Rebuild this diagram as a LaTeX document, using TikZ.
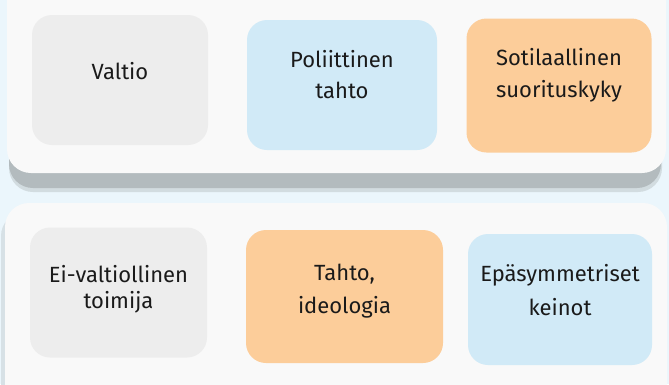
\documentclass[tikz,border=0pt]{standalone}
\usepackage{fontspec}
\setmainfont{Fira Sans}
\usepackage{tikz}
\usetikzlibrary{positioning}
\usepackage{xcolor}
\definecolor{bgblue}{HTML}{EBF6FC}
\definecolor{panelwhite}{HTML}{F9F9F9}
\definecolor{panelshadow}{HTML}{B3BBBE}
\definecolor{tilegray}{HTML}{EDEDED}
\definecolor{tileblue}{HTML}{D1EAF7}
\definecolor{tileorange}{HTML}{FCCD9A}
\definecolor{ink}{HTML}{1A1A1A}

\begin{document}
\begin{tikzpicture}[x=1pt,y=-1pt,
  panel/.style={rounded corners=24pt,fill=panelwhite},
  tile/.style={rounded corners=20pt,inner sep=0pt},
  caption/.style={align=center,anchor=base,text=ink,font=\fontsize{22}{30}\selectfont}]
\useasboundingbox (0,0) rectangle (669,384);
\clip (0,0) rectangle (669,384);
\fill [bgblue] (0,0) rectangle (669,384);

% valtio
\fill [rounded corners=24pt,panelshadow!45!bgblue] (9,-40) rectangle (662,192);
\fill [rounded corners=24pt,panelshadow] (9,-40) rectangle (661,188);
\fill [panel] (7,-40) rectangle (666,173);
\node [tile,fill=tilegray,minimum width=176pt,minimum height=130pt] (valtio) at (120,80) {};
\node [tile,fill=tileblue,minimum width=190pt,minimum height=130pt] (tahto) at (342,85) {};
\node [tile,fill=tileorange,minimum width=185pt,minimum height=134pt] (kyky) at (559,85.5) {};
\node [caption] (valtio text) at (120,79) {Valtio};
\node [caption] (tahto text) at (342,98) {Poliittinen\\[1pt]tahto};
\node [caption] (kyky text) at (559,97) {Sotilaallinen\\[2pt]suorituskyky};

% ei-valtiollinen toimija
\fill [rounded corners=24pt,panelshadow!35!bgblue] (1,212) rectangle (660,420);
\fill [panel] (5,203) rectangle (667,420);
\node [tile,fill=tilegray,minimum width=177pt,minimum height=130pt] (toimija) at (118.5,292.5) {};
\node [tile,fill=tileorange,minimum width=197pt,minimum height=133pt] (ideologia) at (344.5,296.5) {};
\node [tile,fill=tileblue,minimum width=184pt,minimum height=131pt] (keinot) at (560,299.5) {};
\node [caption] (toimija text) at (118.5,308) {Ei-valtiollinen\\[-4pt]toimija};
\node [caption] (ideologia text) at (344.5,313) {Tahto,\\[3pt]ideologia};
\node [caption] (keinot text) at (560,315) {Epäsymmetriset\\[4pt]keinot};
\end{tikzpicture}
\end{document}
